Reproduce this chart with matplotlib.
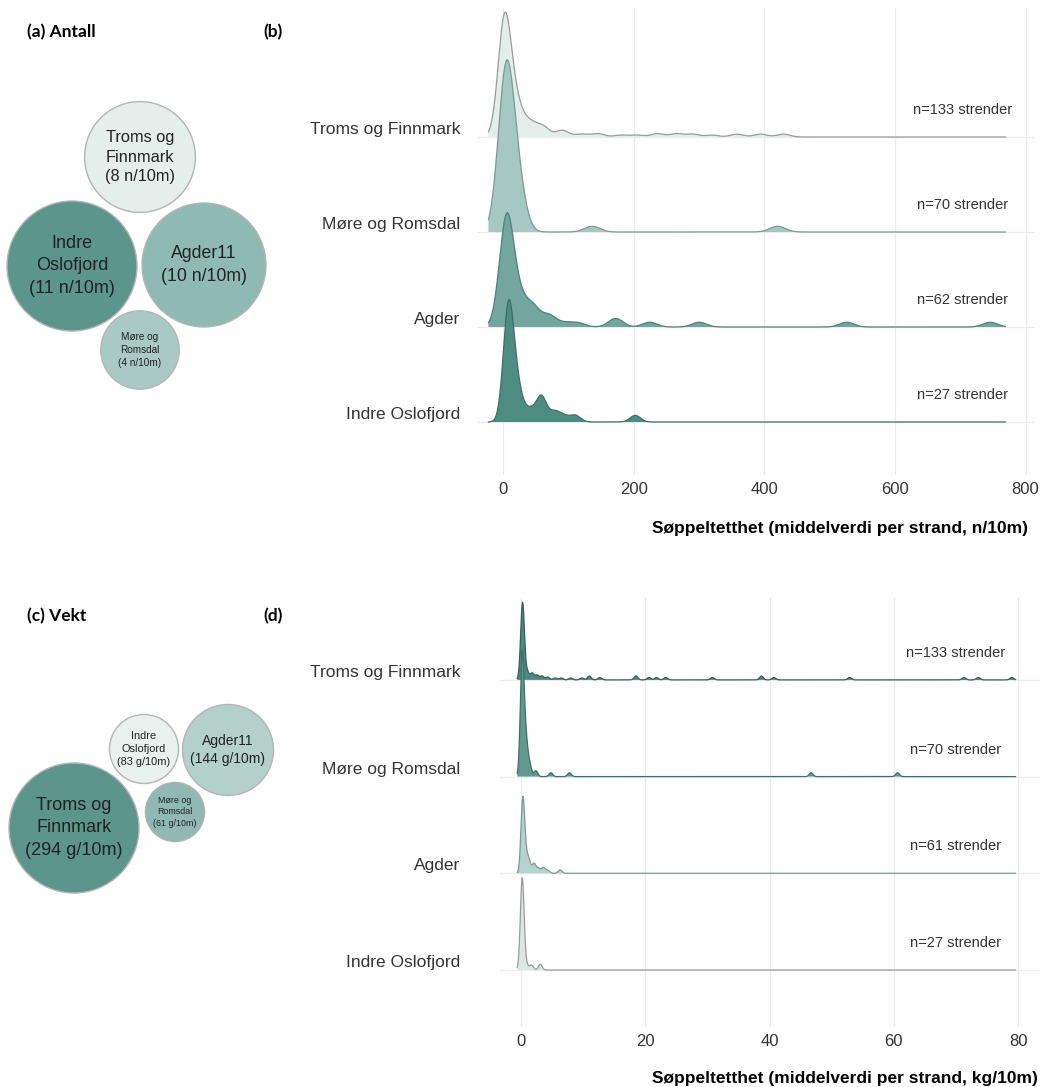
import numpy as np
import matplotlib
matplotlib.use("Agg")
import matplotlib.pyplot as plt
from matplotlib.patches import Circle

plt.rcParams['font.family'] = ['Liberation Sans', 'DejaVu Sans']

# --- mean litter per region (bubbles) ---
count_regions = ["Indre Oslofjord", "Agder11", "Troms og Finnmark", "Møre og Romsdal"]
count_means = [11, 10, 8, 4]
count_labels = ["Indre\nOslofjord\n(11 n/10m)", "Agder11\n(10 n/10m)",
                "Troms og\nFinnmark\n(8 n/10m)", "Møre og\nRomsdal\n(4 n/10m)"]

weight_regions = ["Troms og Finnmark", "Agder11", "Indre Oslofjord", "Møre og Romsdal"]
weight_means = [294, 144, 83, 61]
weight_labels = ["Troms og\nFinnmark\n(294 g/10m)", "Agder11\n(144 g/10m)",
                 "Indre\nOslofjord\n(83 g/10m)", "Møre og\nRomsdal\n(61 g/10m)"]

# --- ridgelines, bottom row first ---
ridge_regions = ["Indre Oslofjord", "Agder", "Møre og Romsdal", "Troms og Finnmark"]
n_count = [27, 62, 70, 133]
n_weight = [27, 61, 70, 133]

# bump centre (n/10m) and bump height (rows) per region
count_bumps = {
    "Troms og Finnmark": [(2, 1.25), (20, 0.30), (40, 0.14), (60, 0.11), (90, 0.07),
                          (120, 0.03), (145, 0.035), (180, 0.02), (205, 0.02), (236, 0.035),
                          (265, 0.035), (290, 0.03), (320, 0.02), (358, 0.03),
                          (394, 0.03), (429, 0.03)],
    "Møre og Romsdal": [(4, 1.65), (22, 0.45), (136, 0.06), (420, 0.06)],
    "Agder": [(5, 1.15), (25, 0.25), (45, 0.2), (70, 0.12), (95, 0.04), (115, 0.04),
              (172, 0.09), (224, 0.05), (300, 0.05), (526, 0.05), (746, 0.05)],
    "Indre Oslofjord": [(8, 1.22), (22, 0.3), (40, 0.12), (58, 0.27), (78, 0.1),
                        (92, 0.06), (110, 0.07), (202, 0.07)],
}
count_bw = {"Troms og Finnmark": 10, "Møre og Romsdal": 12, "Agder": 11, "Indre Oslofjord": 8}

# bump centre (kg/10m) and bump height (rows) per region
weight_bumps = {
    "Troms og Finnmark": [(0.25, 0.8), (1.0, 0.08), (1.8, 0.07), (2.6, 0.05), (3.4, 0.04),
                          (4.3, 0.03), (5.5, 0.02), (6.5, 0.02), (8.0, 0.02), (9.8, 0.02),
                          (11.0, 0.04), (12.7, 0.025), (18.5, 0.04), (20.6, 0.025),
                          (21.8, 0.025), (23.3, 0.025), (30.8, 0.025), (38.7, 0.04),
                          (40.7, 0.025), (52.9, 0.025), (71.3, 0.025), (73.6, 0.025),
                          (79.0, 0.025)],
    "Møre og Romsdal": [(0.2, 1.25), (0.8, 0.35), (1.4, 0.12), (2.4, 0.06), (4.8, 0.04),
                        (7.8, 0.04), (46.7, 0.04), (60.6, 0.04)],
    "Agder": [(0.3, 0.78), (0.9, 0.12), (1.3, 0.1), (2.1, 0.1), (2.8, 0.05), (3.6, 0.06),
              (4.3, 0.03), (6.3, 0.035)],
    "Indre Oslofjord": [(0.2, 0.95), (0.9, 0.05), (1.7, 0.05), (3.1, 0.06)],
}
weight_bw = 0.3

W, H = 1049, 1087
fig = plt.figure(figsize=(W / 100, H / 100), dpi=100)


def px_axes(left, top, right, bottom):
    return fig.add_axes([left / W, 1 - bottom / H, (right - left) / W, (bottom - top) / H])


def smooth(x, bumps, bw):
    y = np.zeros_like(x)
    for c, h in bumps:
        y += h * np.exp(-0.5 * ((x - c) / bw) ** 2)
    return y


# bubbles + panel letters live on a pixel canvas
canvas = px_axes(0, 0, W, H)
canvas.set_xlim(0, W)
canvas.set_ylim(H, 0)
canvas.axis('off')

letter_kw = dict(fontsize=12.5, fontweight='bold', family=['Lato', 'DejaVu Sans'],
                 va='center', ha='left', color='black')
canvas.text(27, 32, "(a) Antall", **letter_kw)
canvas.text(263, 32, "(b)", **letter_kw)
canvas.text(27, 616, "(c) Vekt", **letter_kw)
canvas.text(263, 616, "(d)", **letter_kw)

count_pos = [(72, 266), (204, 265), (140, 157), (140, 350)]
count_colors = ['#5c958c', '#8fbab3', '#e4eeeb', '#a9cac4']
count_fs = [13, 12.7, 11.8, 7.2]
for v, lab, (cx, cy), col, fs in zip(count_means, count_labels, count_pos, count_colors, count_fs):
    r = 65 * np.sqrt(v / count_means[0])
    canvas.add_patch(Circle((cx, cy), r, facecolor=col, edgecolor='#b5b5b5', lw=1))
    canvas.text(cx, cy, lab, ha='center', va='center', fontsize=fs,
                color='#222222', linespacing=1.4)

weight_pos = [(74, 828), (228, 750), (144, 749), (175, 812)]
weight_colors = ['#5c958c', '#b3d0cb', '#e9f1ef', '#8fb9b2']
weight_fs = [13, 10, 7.9, 6.4]
for v, lab, (cx, cy), col, fs in zip(weight_means, weight_labels, weight_pos, weight_colors, weight_fs):
    r = 65 * np.sqrt(v / weight_means[0])
    canvas.add_patch(Circle((cx, cy), r, facecolor=col, edgecolor='#b5b5b5', lw=1))
    canvas.text(cx, cy, lab, ha='center', va='center', fontsize=fs,
                color='#222222', linespacing=1.4)


def ridge_panel(ax, bumps, bws, extent, colors, edges, n_list, unit, ticks, xlim, ylim,
                n_x, pad_px, xlabel, label_right):
    x = np.linspace(extent[0], extent[1], 3000)
    for i, reg in reversed(list(enumerate(ridge_regions))):
        bw = bws[reg] if isinstance(bws, dict) else bws
        y = smooth(x, bumps[reg], bw)
        ax.fill_between(x, i, i + y, facecolor=colors[i], edgecolor='none', zorder=3 + (3 - i) * 2)
        ax.plot(x, i + y, color=edges[i], lw=0.9, zorder=4 + (3 - i) * 2)
        ax.text(n_x, i + 0.28, f"n={n_list[i]} {unit}", ha='center', va='center',
                fontsize=10.5, color='#333333', zorder=20)
    ax.set_xlim(*xlim)
    ax.set_ylim(*ylim)
    ax.set_xticks(ticks)
    ax.set_yticks(range(len(ridge_regions)))
    ax.set_yticklabels(ridge_regions)
    for t in ax.get_yticklabels():
        t.set_verticalalignment('bottom')
    ax.tick_params(axis='y', length=0, pad=pad_px * 0.72, labelsize=12.5, labelcolor='#333333')
    ax.tick_params(axis='x', length=0, pad=5, labelsize=12, labelcolor='#333333')
    ax.grid(True, color='#ececec', lw=0.9, zorder=0)
    for s in ax.spines.values():
        s.set_visible(False)
    ax.set_facecolor('white')
    fig.text(label_right[0] / W, 1 - label_right[1] / H, xlabel, ha='right', va='center',
             fontsize=12.5, fontweight='bold', color='black')


ax_b = px_axes(477, 8, 1035, 475)
ridge_panel(ax_b, count_bumps, count_bw, (-23, 769),
            ['#4e8c82', '#72a69e', '#a6c8c2', '#e3eeeb'],
            ['#3f6f68', '#52807a', '#7f9894', '#9a9a9a'],
            n_count, "strender", [0, 200, 400, 600, 800],
            (-40.5, 814.5), (-(475 - 422) / 95, (422 - 8) / 95),
            703, 17, "Søppeltetthet (middelverdi per strand, n/10m)", (1028, 528))

ax_d = px_axes(500, 598, 1040, 1027)
ridge_panel(ax_d, weight_bumps, weight_bw, (-0.6, 79.6),
            ['#dde8e5', '#b6d2cd', '#62998f', '#4b8a80'],
            ['#9a9a9a', '#7f9894', '#3f6f68', '#355f59'],
            n_weight, "strender", [0, 20, 40, 60, 80],
            ((500 - 521) / 6.2125, (1040 - 521) / 6.2125),
            (-(1027 - 970) / 96.7, (970 - 598) / 96.7),
            70, 40, "Søppeltetthet (middelverdi per strand, kg/10m)", (1038, 1078))

fig.savefig("out.png", dpi=100, facecolor='white')
